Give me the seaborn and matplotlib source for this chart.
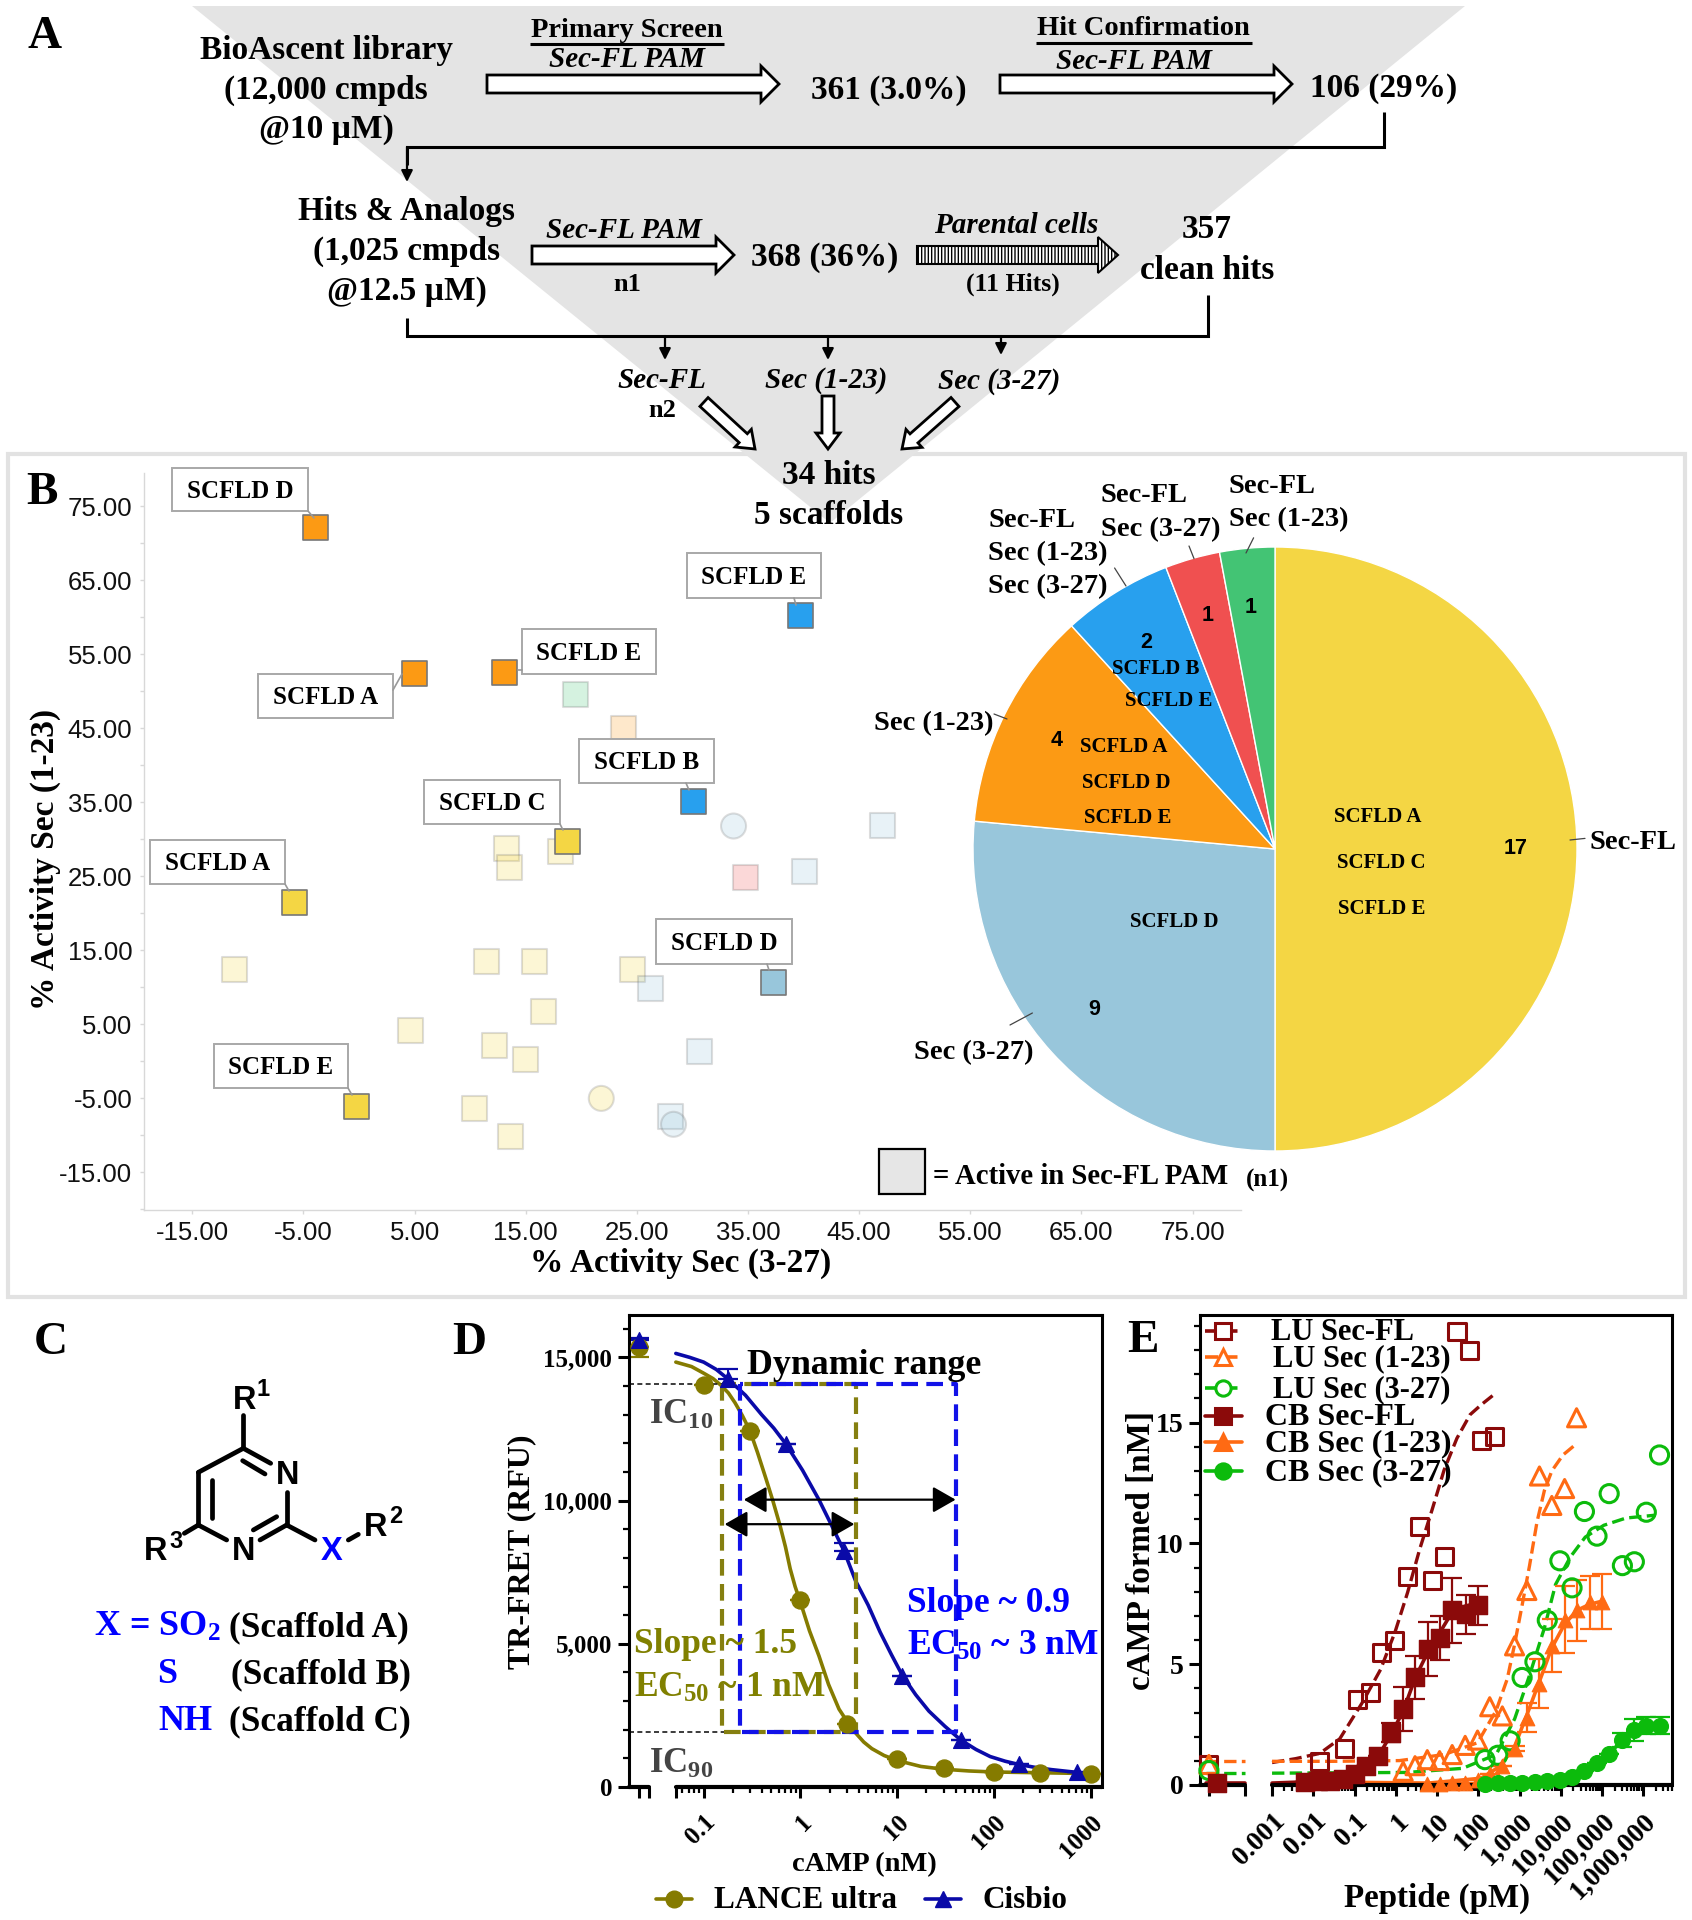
import numpy as np
import pandas as pd
import seaborn as sns
import matplotlib
matplotlib.use('Agg')
import matplotlib.pyplot as plt
from matplotlib.patches import Polygon, Rectangle
from matplotlib.ticker import FixedLocator, NullFormatter

W, H = 1692, 1920

# Panel B: scatter of % activity
hit_x = [-3.95, 4.98, 13.1, 39.7, 30.1, 18.8, -5.8, -0.2, 37.3]
hit_y = [72.2, 52.4, 52.5, 60.2, 35.1, 29.7, 21.5, -6.1, 10.7]
hit_group = ['orange', 'orange', 'orange', 'blue', 'blue', 'yellow', 'yellow', 'yellow', 'ltblue']
faded_x = [19.5, 23.8, 13.3, 13.5, 18.1, -11.2, 11.5, 15.8, 24.6, 16.6, 4.6, 12.2, 15.0, 10.4, 13.6,
           21.8, 26.2, 30.6, 28.0, 40.1, 47.1, 33.7, 28.3, 34.8]
faded_y = [49.6, 45.0, 28.8, 26.2, 28.3, 12.4, 13.5, 13.5, 12.4, 6.7, 4.2, 2.1, 0.3, -6.4, -10.1,
           -5.0, 9.8, 1.3, -7.4, 25.7, 31.9, 31.8, -8.5, 24.8]
faded_group = ['green', 'orange'] + ['yellow'] * 14 + ['ltblue'] * 7 + ['red']
faded_shape = ['s'] * 15 + ['o'] + ['s'] * 5 + ['o', 'o', 's']
b_ticks = [-15, -5, 5, 15, 25, 35, 45, 55, 65, 75]

# Panel B: pie
pie_counts = [17, 9, 4, 2, 1, 1]
pie_colors = ['#F4D644', '#98C6DB', '#FC9A14', '#28A0EE', '#F05050', '#43C474']

# Panel D: the first x value of each marker series stands for the zero dose left of the axis break
lance_x = [0.0215, 0.1, 0.3, 1, 3, 10, 30, 100, 300, 1000]
lance_y = [15374, 14049, 12448, 6541, 2208, 994, 649, 538, 497, 469]
lance_err = [350, 0, 0, 0, 0, 0, 0, 0, 0, 0]
cisbio_x = [0.0215, 0.179, 0.71, 2.82, 11.3, 45.2, 179.6, 713]
cisbio_y = [15622, 14242, 11965, 8239, 3892, 1642, 787, 511]
cisbio_err = [60, 345, 0, 280, 0, 0, 0, 0]
lance_fit_x = [0.0516, 0.075, 0.1, 0.125, 0.15, 0.18, 0.211, 0.25, 0.3, 0.36, 0.4375, 0.52, 0.614, 0.70, 0.783, 0.88,
               1.0, 1.24, 1.55, 1.95, 2.5, 3.0, 3.7, 4.5, 5.46, 7.3, 10, 17.5, 30, 55, 100, 1000]
lance_fit_y = [14836, 14680, 14449, 14260, 14035, 13760, 13414, 12980, 12448, 11680, 10792, 9980, 9136, 8380, 7618, 7000,
               6445, 5450, 4582, 3580, 2719, 2310, 1891, 1570, 1339, 1100, 925, 718, 621, 560, 524, 469]
cisbio_fit_x = [0.0516, 0.072, 0.1, 0.135, 0.179, 0.27, 0.397, 0.53, 0.71, 1.05, 1.55, 2.1, 2.82, 3.7, 5.0, 6.64, 8.7,
                11.3, 15.5, 21.2, 31, 45.2, 65, 91, 130, 180, 270, 390, 713]
cisbio_fit_y = [15139, 15000, 14836, 14580, 14242, 13680, 13001, 12530, 11965, 11060, 10033, 9130, 8239, 7204, 6350, 5410,
                4620, 3892, 3220, 2650, 2120, 1642, 1310, 1063, 900, 787, 680, 607, 511]
d_range_y = [14062, 1918]
lance_range_x = [0.156, 3.77]
cisbio_range_x = [0.237, 40.6]

# Panel E: log10(pM); the leftmost values stand for the zero dose left of the axis break
lu_fl_x = [-4.53, -1.84, -1.245, -0.92, -0.606, -0.336, -0.021, 0.285, 0.582, 0.879, 1.185, 1.482, 1.78, 2.085, 2.4]
lu_fl_y = [0.85, 0.98, 1.52, 3.52, 3.84, 5.48, 6.0, 8.64, 10.7, 8.46, 9.47, 18.76, 17.98, 14.26, 14.43]
lu_fl_fit_x = [-3.0, -2.43, -1.84, -1.36, -0.82, -0.37, -0.02, 0.285, 0.58, 0.88, 1.17, 1.48, 1.8, 2.07, 2.37]
lu_fl_fit_y = [0.93, 1.09, 1.31, 1.91, 3.39, 4.78, 6.33, 7.97, 9.77, 11.4, 13.04, 14.35, 15.33, 15.74, 16.15]
lu_n1_x = [-4.53, 0.177, 0.465, 0.762, 1.06, 1.365, 1.68, 1.98, 2.275, 2.58, 2.877, 3.175, 3.48, 3.78, 4.09, 4.38]
lu_n1_y = [0.85, 0.57, 0.80, 1.05, 1.01, 1.26, 1.64, 1.86, 3.24, 2.86, 5.76, 8.05, 12.79, 11.57, 12.27, 15.2]
lu_n1_fit_x = [-3.0, -1.53, 0.09, 1.17, 1.98, 2.43, 2.7, 2.88, 3.06, 3.24, 3.42, 3.6, 3.78, 4.05, 4.36]
lu_n1_fit_y = [0.98, 0.98, 1.01, 1.26, 1.75, 3.08, 4.39, 5.84, 7.44, 9.08, 10.88, 12.19, 13.0, 13.66, 14.1]
lu_3_x = [-4.53, 2.16, 2.47, 2.77, 3.06, 3.37, 3.67, 3.975, 4.27, 4.57, 4.875, 5.17, 5.49, 5.78, 6.07, 6.39]
lu_3_y = [0.6, 1.05, 1.23, 1.83, 4.45, 5.1, 6.82, 9.28, 8.16, 11.32, 10.3, 12.06, 9.08, 9.24, 11.29, 13.66]
lu_3_fit_x = [-3.0, 0.27, 1.62, 2.43, 2.88, 3.24, 3.6, 3.87, 4.23, 4.59, 5.04, 5.58, 6.3]
lu_3_fit_y = [0.49, 0.52, 0.69, 1.26, 2.74, 4.54, 6.5, 8.3, 9.44, 10.26, 10.75, 11.05, 11.17]
cb_fl_x = [-4.33, -2.21, -1.89, -1.6, -1.28, -1.0, -0.72, -0.43, -0.12, 0.177, 0.474, 0.78, 1.08, 1.37, 1.69, 1.98]
cb_fl_y = [0.08, 0.11, 0.15, 0.16, 0.23, 0.44, 0.77, 1.21, 2.16, 3.14, 4.45, 5.63, 6.09, 7.23, 7.07, 7.43]
cb_fl_err = [0, 0, 0, 0, 0, 0, 0, 0, 0.4, 0.9, 0.9, 1.1, 0.9, 1.35, 0.8, 0.8]
cb_fl_fit_x = [-3.0, -1.08, -0.72, -0.43, -0.12, 0.177, 0.474, 0.78, 1.08, 1.37, 1.69, 1.98]
cb_fl_fit_y = [0.08, 0.2, 0.6, 1.18, 2.08, 3.06, 4.45, 5.52, 6.35, 7.17, 7.41, 7.53]
cb_n1_x = [0.76, 1.06, 1.365, 1.68, 1.98, 2.275, 2.58, 2.877, 3.175, 3.48, 3.78, 4.09, 4.39, 4.7, 5.0]
cb_n1_y = [0.03, 0.05, 0.07, 0.1, 0.2, 0.44, 0.77, 1.5, 2.78, 4.2, 5.76, 6.85, 7.23, 7.56, 7.59]
cb_n1_err = [0, 0, 0, 0, 0, 0, 0, 0.1, 0.6, 1.0, 1.1, 1.4, 1.25, 1.1, 1.15]
cb_n1_fit_x = [-1.05, 0.79, 2.07, 2.52, 2.877, 3.175, 3.48, 3.78, 4.09, 4.39, 4.7, 5.0]
cb_n1_fit_y = [0.11, 0.08, 0.28, 0.77, 1.59, 2.9, 4.29, 5.68, 6.66, 7.23, 7.48, 7.61]
cb_3_x = [2.16, 2.47, 2.77, 3.06, 3.37, 3.67, 3.975, 4.27, 4.57, 4.875, 5.17, 5.49, 5.78, 6.07, 6.39]
cb_3_y = [0.05, 0.08, 0.1, 0.1, 0.13, 0.16, 0.2, 0.34, 0.6, 0.9, 1.29, 1.86, 2.29, 2.45, 2.45]
cb_3_err = [0, 0, 0, 0, 0, 0, 0, 0, 0, 0, 0, 0.3, 0.45, 0.35, 0.35]
e_tick_labels = ['0.001', '0.01', '0.1', '1', '10', '100', '1,000', '10,000', '100,000', '1,000,000']

sns.set_theme(style='ticks', rc={'text.color': 'black', 'axes.labelcolor': 'black', 'axes.edgecolor': 'black',
                                 'xtick.color': 'black', 'ytick.color': 'black'})
plt.rcParams['font.family'] = ['Liberation Serif', 'DejaVu Serif']
plt.rcParams['font.weight'] = 'bold'
plt.rcParams['axes.labelweight'] = 'bold'
plt.rcParams['mathtext.fontset'] = 'custom'
plt.rcParams['mathtext.rm'] = 'Liberation Serif:bold'
plt.rcParams['mathtext.default'] = 'regular'

fig = plt.figure(figsize=(W / 100, H / 100), dpi=100)


def px_axes(left, top, right, bottom):
    return fig.add_axes([left / W, 1 - bottom / H, (right - left) / W, (bottom - top) / H])


ov = fig.add_axes([0, 0, 1, 1], zorder=10)
ov.set_xlim(0, W)
ov.set_ylim(H, 0)
ov.axis('off')


def txt(x, y, s, size=24, **kw):
    kw.setdefault('ha', 'center')
    kw.setdefault('va', 'center')
    return ov.text(x, y + 2.5, s, fontsize=size, **kw)


def big_arrow(start, end, shaft, head, head_len, **kw):
    # hollow block arrow, half widths in px
    p0, p1 = np.array(start, float), np.array(end, float)
    d = (p1 - p0) / np.linalg.norm(p1 - p0)
    n = np.array([-d[1], d[0]])
    b = p1 - d * head_len
    pts = [p0 + n * shaft, b + n * shaft, b + n * head, p1, b - n * head, b - n * shaft, p0 - n * shaft]
    ov.add_patch(Polygon(pts, closed=True, fc='white', ec='black', lw=2, **kw))


def conn(xs, ys, lw=2.2, color='black'):
    ov.plot(xs, ys, color=color, lw=lw, solid_capstyle='butt', solid_joinstyle='miter')


def small_arrow(x0, y0, x1, y1):
    ov.annotate('', xy=(x1, y1), xytext=(x0, y0),
                arrowprops=dict(arrowstyle='-|>', color='black', lw=1.6, mutation_scale=17, shrinkA=0, shrinkB=0))


# ---------- Panel A ----------
ov.add_patch(Rectangle((8, 454), 1677, 843, fc='none', ec='#E2E2E2', lw=3))
ov.add_patch(Polygon([(192, 6), (1465, 6), (830, 523)], closed=True, fc='#E4E4E4', ec='none'))
txt(45, 34, 'A', 34)
txt(326, 48, 'BioAscent library', 24)
txt(326, 88, '(12,000 cmpds', 24)
txt(326, 127, '@10 µM)', 24)
txt(627, 28, 'Primary Screen', 20.5)
conn([530, 724], [44, 44])
txt(627, 57, 'Sec-FL PAM', 21, style='italic')
big_arrow((487, 84), (779, 84), 9, 18, 18)
txt(889, 88, '361 (3.0%)', 24)
txt(1143, 26, 'Hit Confirmation', 20.5)
conn([1036, 1252], [43, 43])
txt(1134, 59, 'Sec-FL PAM', 21, style='italic')
big_arrow((1000, 84), (1292, 84), 9, 18, 18)
txt(1384, 85.5, '106 (29%)', 24)
conn([1384, 1384, 407, 407], [112, 147, 147, 165])
small_arrow(407, 147, 407, 182)
txt(407, 209, 'Hits & Analogs', 24)
txt(407, 249, '(1,025 cmpds', 24)
txt(407, 289, '@12.5 µM)', 24)
txt(624, 228, 'Sec-FL PAM', 21, style='italic')
big_arrow((532, 255), (734, 255), 9, 18, 18)
txt(627, 282, 'n1', 19)
txt(825, 255, '368 (36%)', 24)
txt(1016, 223, 'Parental cells', 21, style='italic')
ov.add_patch(Polygon([(917, 246), (1098, 246), (1098, 237), (1118, 255), (1098, 273), (1098, 264), (917, 264)],
                     closed=True, fc='white', ec='black', lw=1.5, hatch='|||||'))
txt(1013, 282, '(11 Hits)', 18.5)
txt(1207, 227, '357', 24)
txt(1207, 268, 'clean hits', 24)
conn([407, 407, 1208, 1208], [318, 336, 336, 295])
small_arrow(665, 336, 665, 360)
small_arrow(828, 336, 828, 360)
small_arrow(1001, 336, 1001, 355)
txt(662, 378, 'Sec-FL', 21, style='italic')
txt(826, 378, 'Sec (1-23)', 21, style='italic')
txt(999, 379, 'Sec (3-27)', 21, style='italic')
txt(662, 408, 'n2', 19)
big_arrow((704, 402), (755, 449), 6, 12, 16)
big_arrow((828, 396), (828, 449), 6, 12, 16)
big_arrow((955, 402), (902, 449), 6, 12, 16)
txt(829, 473.5, '34 hits', 24)
txt(829, 513.5, '5 scaffolds', 24)

# ---------- Panel B scatter ----------
ax_b = px_axes(143.5, 473, 1241, 1209.7)
b_palette = {'orange': '#FC9A14', 'blue': '#28A0EE', 'yellow': '#F4D644', 'ltblue': '#98C6DB',
             'green': '#43C474', 'red': '#F05050'}
df_faded = pd.DataFrame({'x': faded_x, 'y': faded_y, 'group': faded_group, 'shape': faded_shape})
df_hits = pd.DataFrame({'x': hit_x, 'y': hit_y, 'group': hit_group})
sns.scatterplot(data=df_faded, x='x', y='y', hue='group', style='shape', palette=b_palette,
                markers={'s': 's', 'o': 'o'}, s=324, alpha=0.22, edgecolor='#666666', linewidth=1.5,
                legend=False, ax=ax_b)
sns.scatterplot(data=df_hits, x='x', y='y', hue='group', palette=b_palette, marker='s', s=324,
                edgecolor='#777777', linewidth=1.2, legend=False, ax=ax_b)
ax_b.set_xlim(-19.39, 79.36)
ax_b.set_ylim(-20.04, 79.5)
ax_b.set_xticks(b_ticks)
ax_b.set_yticks(b_ticks)
ax_b.set_xticklabels([f'{v:.2f}' for v in b_ticks])
ax_b.set_yticklabels([f'{v:.2f}' for v in b_ticks])
ax_b.yaxis.set_minor_locator(FixedLocator(np.arange(-20, 80, 10)))
ax_b.tick_params(axis='both', which='both', color='#D8D8D8', length=3, width=1, labelsize=18.5, pad=5)
for t in ax_b.get_xticklabels() + ax_b.get_yticklabels():
    t.set_fontfamily('Liberation Sans')
    t.set_fontweight('normal')
    t.set_color('#111111')
sns.despine(ax=ax_b)
for side in ['left', 'bottom']:
    ax_b.spines[side].set_color('#D8D8D8')
    ax_b.spines[side].set_linewidth(1)
ax_b.patch.set_alpha(0)
ax_b.set_xlabel('% Activity Sec (3-27)', fontsize=24, va='center')
ax_b.xaxis.set_label_coords(681, 1263, transform=ov.transData)
ax_b.set_ylabel('% Activity Sec (1-23)', fontsize=24, va='center')
ax_b.yaxis.set_label_coords(45, 859, transform=ov.transData)
txt(42, 490, 'B', 34)

# scaffold call-outs: box (x0, y0, x1, y1), text, leader
callouts = [
    ((172, 468, 308, 511), 'SCFLD D', (308, 511, 314, 518)),
    ((687, 553, 821, 598), 'SCFLD E', (794, 598, 796, 605)),
    ((522, 629, 656, 674), 'SCFLD E', (518, 670, 522, 670)),
    ((258, 674, 393, 718), 'SCFLD A', (393, 690, 402, 674)),
    ((579, 739, 714, 783), 'SCFLD B', (686, 783, 689, 790)),
    ((424, 780, 560, 824), 'SCFLD C', (560, 824, 563, 830)),
    ((150, 840, 285, 884), 'SCFLD A', (285, 884, 289, 891)),
    ((656, 919, 792, 964), 'SCFLD D', (767, 964, 769, 970)),
    ((214, 1044, 348, 1088), 'SCFLD E', (348, 1088, 352, 1095)),
]
for (x0, y0, x1, y1), label, (lx0, ly0, lx1, ly1) in callouts:
    ov.plot([lx0, lx1], [ly0, ly1], color='#999999', lw=1.2)
    ov.add_patch(Rectangle((x0, y0), x1 - x0, y1 - y0, fc='white', ec='#A8A8A8', lw=1.4))
    txt((x0 + x1) / 2, (y0 + y1) / 2 - 1, label, 18)

# ---------- Panel B pie ----------
ax_pie = px_axes(1275 - 302, 849 - 302, 1275 + 302, 849 + 302)
ax_pie.pie(pie_counts, colors=sns.color_palette(pie_colors), startangle=90, counterclock=False,
           labeldistance=None, wedgeprops=dict(edgecolor='white', linewidth=1))
ax_pie.set_xlim(-1, 1)
ax_pie.set_ylim(-1, 1)
ax_pie.patch.set_alpha(0)
for x, y, s in [(1516, 846, '17'), (1094.5, 1007, '9'), (1057, 738, '4'), (1146.5, 640, '2'), (1207.5, 613, '1'),
                (1251, 605, '1')]:
    txt(x, y, s, 15.5, family='Liberation Sans')
for x, y, s in [(1378, 814.5, 'SCFLD A'), (1381.5, 860.5, 'SCFLD C'), (1381.5, 906.5, 'SCFLD E'), (1174, 919.5, 'SCFLD D'),
                (1123.7, 744.5, 'SCFLD A'), (1126, 780.5, 'SCFLD D'), (1127.4, 815.5, 'SCFLD E'),
                (1155.5, 666.5, 'SCFLD B'), (1168.7, 699, 'SCFLD E')]:
    txt(x, y, s, 15)
txt(1633, 840, 'Sec-FL', 20.5)
txt(974, 1050, 'Sec (3-27)', 20.5)
txt(934, 721, 'Sec (1-23)', 20.5)
for y, s in [(518, 'Sec-FL'), (551, 'Sec (1-23)'), (584, 'Sec (3-27)')]:
    txt(988.4, y, s, 20.5, ha='left')
for y, s in [(493.5, 'Sec-FL'), (527, 'Sec (3-27)')]:
    txt(1101, y, s, 20.5, ha='left')
for y, s in [(483.7, 'Sec-FL'), (517, 'Sec (1-23)')]:
    txt(1229, y, s, 20.5, ha='left')
for x0, y0, x1, y1 in [(1570, 840, 1585, 838.4), (1010, 1025, 1032.4, 1013), (994, 714, 1007, 719),
                       (1114.6, 568, 1126, 586), (1189, 546, 1194, 558.6), (1253.6, 537.8, 1246, 553)]:
    ov.plot([x0, x1], [y0, y1], color='#444444', lw=0.9)
ov.add_patch(Rectangle((878.6, 1149), 46.4, 45, fc='#E6E6E6', ec='black', lw=1.6))
txt(933, 1173.5, '= Active in Sec-FL PAM', 20.7, ha='left')
txt(1267, 1178, '(n1)', 18)

# ---------- Panel C ----------
txt(51, 1341, 'C', 34)
z = 3.0
bonds = [(730, 345, 730, 445), (730, 445, 595, 517), (595, 517, 595, 675), (595, 675, 680, 720), (860, 675, 780, 720),
         (860, 575, 860, 675), (730, 445, 812, 490), (728, 482, 795, 522), (637, 540, 637, 655), (760, 690, 830, 650),
         (595, 675, 553, 700), (860, 675, 945, 720), (1045, 720, 1075, 703)]
for x0, y0, x1, y1 in bonds:
    ov.plot([x0 / z, x1 / z], [1300 + y0 / z, 1300 + y1 / z], color='black', lw=3.4, solid_capstyle='round')
for x, y, s, size, c in [(733, 300, 'R', 23.5, 'black'), (790, 268, '1', 17, 'black'), (862, 525, 'N', 23.5, 'black'),
                         (730, 753, 'N', 23.5, 'black'), (995, 753, 'X', 23.5, '#0000FF'), (467, 753, 'R', 23.5, 'black'),
                         (527, 722, '3', 17, 'black'), (1128, 680, 'R', 23.5, 'black'), (1187, 648, '2', 17, 'black')]:
    txt(x / z, 1298 + y / z, s, size, color=c, family='Liberation Sans')
txt(94.5, 1625, 'X = SO$_{2}$', 26, ha='left', color='#0000FF')
txt(157, 1672, 'S', 26, ha='left', color='#0000FF')
txt(158, 1719, 'NH', 26, ha='left', color='#0000FF')
txt(229, 1625, '(Scaffold A)', 25.5, ha='left')
txt(230.7, 1672, '(Scaffold B)', 25.5, ha='left')
txt(229, 1719, '(Scaffold C)', 25.5, ha='left')

# ---------- Panel D ----------
OLIVE, NAVY = '#857B00', '#0A0AA8'
ax_d = px_axes(629, 1314.6, 1102.4, 1787)
ax_d.set_xscale('log')
sns.lineplot(x=lance_fit_x, y=lance_fit_y, color=OLIVE, lw=2.6, errorbar=None, ax=ax_d)
sns.lineplot(x=cisbio_fit_x, y=cisbio_fit_y, color=NAVY, lw=2.6, errorbar=None, ax=ax_d)
ax_d.errorbar(lance_x, lance_y, yerr=[lance_err, [0] * len(lance_err)], fmt='none', ecolor=OLIVE, elinewidth=1.4, capsize=7, capthick=1.6)
ax_d.errorbar(cisbio_x, cisbio_y, yerr=[[0] * len(cisbio_err), cisbio_err], fmt='none', ecolor=NAVY, elinewidth=1.4, capsize=7, capthick=1.6)
sns.scatterplot(x=lance_x, y=lance_y, color=OLIVE, marker='o', s=150, edgecolor=OLIVE, ax=ax_d, zorder=4, clip_on=False)
sns.scatterplot(x=cisbio_x, y=cisbio_y, color=NAVY, marker='^', s=130, edgecolor=NAVY, ax=ax_d, zorder=4, clip_on=False)
ax_d.set_xlim(10 ** -1.771, 10 ** 3.118)
ax_d.set_ylim(0, 16495)
ax_d.plot([10 ** -1.771, cisbio_range_x[0]], [d_range_y[1]] * 2, 'k--', lw=1.2, dashes=(3, 2))
ax_d.plot([10 ** -1.771, lance_range_x[0]], [d_range_y[0]] * 2, 'k--', lw=1.2, dashes=(3, 2))
for (x0, x1), c in ((lance_range_x, '#857F10'), (cisbio_range_x, '#1212E8')):
    ax_d.plot([x0, x0, x1, x1, x0], [d_range_y[0], d_range_y[1], d_range_y[1], d_range_y[0], d_range_y[0]],
              color=c, lw=3, linestyle='--', dashes=(4, 2))
for y, x0, x1 in [(10033, 0.26, 40), (9177, 0.165, 3.6)]:
    ax_d.annotate('', xy=(x1, y), xytext=(x0, y),
                  arrowprops=dict(arrowstyle='<|-|>,head_length=14,head_width=8', color='black', lw=1.6,
                                  mutation_scale=1, shrinkA=0, shrinkB=0))
txt(864, 1363, 'Dynamic range', 25.8)
txt(649, 1413, 'IC$_{10}$', 25, ha='left', color='#444444')
txt(649, 1762, 'IC$_{90}$', 25, ha='left', color='#444444')
txt(907, 1601, 'Slope ~ 0.9', 25.5, ha='left', color='#0000FF')
txt(907, 1644, 'EC$_{50}$ ~ 3 nM', 25.5, ha='left', color='#0000FF')
txt(634, 1642, 'Slope ~ 1.5', 25.5, ha='left', color='#808000')
txt(634, 1686, 'EC$_{50}$ ~ 1 nM', 25.5, ha='left', color='#808000')
txt(469, 1341, 'D', 34)

d_major = [0.0215, 0.0275, 0.0516, 0.1, 1, 10, 100, 1000]
ax_d.set_xticks(d_major)
ax_d.set_xticklabels(['', '', '', '0.1', '1', '10', '100', '1000'], rotation=45, ha='right', rotation_mode='anchor', fontsize=18)
d_minor = [m * 10.0 ** e for e in range(-2, 3) for m in range(2, 10) if m * 10.0 ** e > 0.055]
ax_d.xaxis.set_minor_locator(FixedLocator(d_minor))
ax_d.xaxis.set_minor_formatter(NullFormatter())
ax_d.set_yticks([0, 5000, 10000, 15000])
ax_d.set_yticklabels(['0', '5,000', '10,000', '15,000'], fontsize=18)
ax_d.yaxis.set_minor_locator(FixedLocator(np.arange(0, 16500, 1000)))
ax_d.tick_params(axis='both', which='major', length=8, width=2.2, pad=4)
ax_d.tick_params(axis='both', which='minor', length=4.5, width=1.6)
ax_d.tick_params(axis='x', which='major', pad=9)
for side in ['top', 'right', 'left']:
    ax_d.spines[side].set_linewidth(2.2)
ax_d.spines['bottom'].set_visible(False)
for x0, x1 in [(10 ** -1.771, 0.0275), (0.0516, 10 ** 3.118)]:
    ax_d.plot([x0, x1], [0, 0], color='black', lw=3, transform=ax_d.get_xaxis_transform(), clip_on=False)
ax_d.set_xlabel('cAMP (nM)', fontsize=20.5, va='center')
ax_d.xaxis.set_label_coords(864.5, 1865, transform=ov.transData)
ax_d.set_ylabel('TR-FRET (RFU)', fontsize=23, va='center')
ax_d.yaxis.set_label_coords(522, 1552, transform=ov.transData)
ov.plot([655.5, 692], [1899, 1899], color=OLIVE, lw=2.6)
ov.plot([674], [1899], 'o', color=OLIVE, ms=12)
txt(713.5, 1898, 'LANCE ultra', 22.5, ha='left')
ov.plot([925, 961], [1899, 1899], color=NAVY, lw=2.6)
ov.plot([943], [1899], '^', color=NAVY, ms=11)
txt(983, 1898, 'Cisbio', 22.5, ha='left')

# ---------- Panel E ----------
DARKRED, ORANGE, GREEN = '#8B0A0A', '#FF6A13', '#0CBB0C'
ax_e = px_axes(1200, 1314.6, 1672.4, 1785)
ax_e.set_xscale('log')


def p10(values):
    return 10.0 ** np.array(values, float)


for fx, fy, c in [(lu_fl_fit_x, lu_fl_fit_y, DARKRED), (lu_n1_fit_x, lu_n1_fit_y, ORANGE), (lu_3_fit_x, lu_3_fit_y, GREEN)]:
    sns.lineplot(x=p10(fx), y=fy, color=c, lw=2.4, linestyle='--', errorbar=None, ax=ax_e)
for fx, fy, c in [(cb_fl_fit_x, cb_fl_fit_y, DARKRED), (cb_n1_fit_x, cb_n1_fit_y, ORANGE), (cb_3_x, cb_3_y, GREEN)]:
    sns.lineplot(x=p10(fx), y=fy, color=c, lw=2.6, errorbar=None, ax=ax_e)
# flat stubs left of the axis break
ax_e.plot(p10([-4.6, -3.65]), [0.98, 0.98], color=ORANGE, lw=2.4, ls='--')
ax_e.plot(p10([-4.6, -3.65]), [0.5, 0.5], color=GREEN, lw=2.4, ls='--')
ax_e.plot(p10([-4.6, -3.65]), [0.08, 0.08], color=DARKRED, lw=2.6)
for xs, ys, es, c in [(cb_fl_x, cb_fl_y, cb_fl_err, DARKRED), (cb_n1_x, cb_n1_y, cb_n1_err, ORANGE), (cb_3_x, cb_3_y, cb_3_err, GREEN)]:
    ax_e.errorbar(p10(xs), ys, yerr=es, fmt='none', ecolor=c, elinewidth=1.6, capsize=7, capthick=1.6)
for xs, ys, m, c, s in [(lu_fl_x, lu_fl_y, 's', DARKRED, 150), (lu_n1_x, lu_n1_y, '^', ORANGE, 170), (lu_3_x, lu_3_y, 'o', GREEN, 170)]:
    sns.scatterplot(x=p10(xs), y=ys, marker=m, s=s, facecolor='none', edgecolor=c, linewidth=2.2, ax=ax_e, clip_on=False, zorder=4)
for xs, ys, m, c, s in [(cb_fl_x, cb_fl_y, 's', DARKRED, 170), (cb_n1_x, cb_n1_y, '^', ORANGE, 110), (cb_3_x, cb_3_y, 'o', GREEN, 130)]:
    sns.scatterplot(x=p10(xs), y=ys, marker=m, s=s, color=c, edgecolor=c, ax=ax_e, clip_on=False, zorder=5)
ax_e.set_xlim(10 ** -4.746, 10 ** 6.702)
ax_e.set_ylim(0, 19.47)
e_major = [10 ** -4.53, 10 ** -3.648] + [10.0 ** e for e in range(-3, 7)]
ax_e.set_xticks(e_major)
ax_e.set_xticklabels(['', ''] + e_tick_labels, rotation=45, ha='right', rotation_mode='anchor', fontsize=20)
e_minor = [m * 10.0 ** e for e in range(-3, 7) for m in range(2, 10) if m * 10.0 ** e < 10 ** 6.7]
ax_e.xaxis.set_minor_locator(FixedLocator(e_minor))
ax_e.xaxis.set_minor_formatter(NullFormatter())
ax_e.set_yticks([0, 5, 10, 15])
ax_e.set_yticklabels(['0', '5', '10', '15'], fontsize=20)
ax_e.yaxis.set_minor_locator(FixedLocator(np.arange(0, 19.1, 1)))
ax_e.tick_params(axis='both', which='major', length=8, width=2.2, pad=4)
ax_e.tick_params(axis='both', which='minor', length=4.5, width=1.6)
ax_e.tick_params(axis='x', which='major', pad=9)
for side in ['top', 'right', 'left']:
    ax_e.spines[side].set_linewidth(2.2)
ax_e.spines['bottom'].set_visible(False)
for x0, x1 in [(10 ** -4.746, 10 ** -3.648), (1e-3, 10 ** 6.702)]:
    ax_e.plot([x0, x1], [0, 0], color='black', lw=3, transform=ax_e.get_xaxis_transform(), clip_on=False)
ax_e.set_xlabel('Peptide (pM)', fontsize=23.8, va='center')
ax_e.xaxis.set_label_coords(1436.6, 1898, transform=ov.transData)
ax_e.set_ylabel('cAMP formed [nM]', fontsize=23.8, va='center')
ax_e.yaxis.set_label_coords(1141, 1551, transform=ov.transData)
txt(1143, 1339, 'E', 34)

rows = [(1331, 'LU Sec-FL', 1271, DARKRED, 's', True, 22),
        (1357, 'LU Sec (1-23)', 1273, ORANGE, '^', True, 22),
        (1388, 'LU Sec (3-27)', 1273, GREEN, 'o', True, 22),
        (1416, 'CB Sec-FL', 1265, DARKRED, 's', False, 23),
        (1442, 'CB Sec (1-23)', 1265, ORANGE, '^', False, 23),
        (1471, 'CB Sec (3-27)', 1265, GREEN, 'o', False, 23)]
for y, label, x_text, c, m, hollow, size in rows:
    ov.plot([1205, 1242], [y, y], color=c, lw=2.6, ls='--' if hollow else '-')
    ov.plot([1223], [y], m, ms=11, mfc='white' if hollow else c, mec=c, mew=2.2)
    txt(x_text, y - 1, label, size, ha='left')

fig.savefig('out.png', dpi=100)
